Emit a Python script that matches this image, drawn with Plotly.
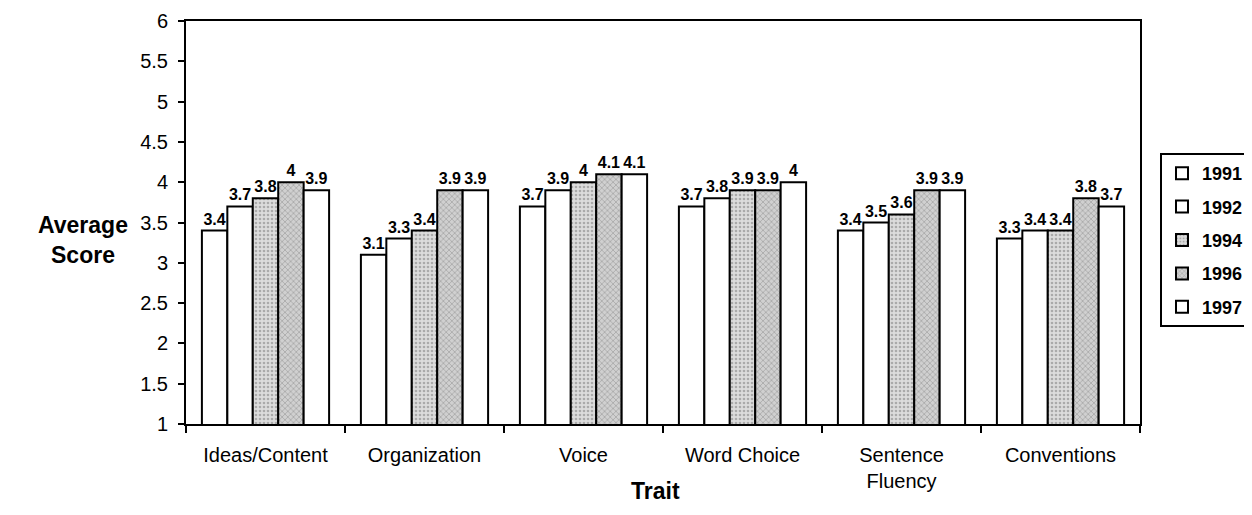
import plotly.graph_objects as go

traits = ["Ideas/Content", "Organization", "Voice", "Word Choice", "Sentence<br>Fluency", "Conventions"]
years = ["1991", "1992", "1994", "1996", "1997"]
s1991 = [3.4, 3.1, 3.7, 3.7, 3.4, 3.3]
s1992 = [3.7, 3.3, 3.9, 3.8, 3.5, 3.4]
s1994 = [3.8, 3.4, 4.0, 3.9, 3.6, 3.4]
s1996 = [4.0, 3.9, 4.1, 3.9, 3.9, 3.8]
s1997 = [3.9, 3.9, 4.1, 4.0, 3.9, 3.7]
series = [s1991, s1992, s1994, s1996, s1997]

styles = [
    dict(color="white"),
    dict(color="white"),
    dict(color="#d4d4d4", pattern=dict(shape=".", fgcolor="#777777", bgcolor="#dcdcdc", size=4, solidity=0.35)),
    dict(color="#c4c4c4", pattern=dict(shape="x", fgcolor="#6a6a6a", bgcolor="#d0d0d0", size=4, solidity=0.3)),
    dict(color="white"),
]

FONT = "Liberation Sans, Arial"

fig = go.Figure()
for i, (yr, vals) in enumerate(zip(years, series)):
    m = dict(styles[i])
    m["line"] = dict(color="black", width=2)
    fig.add_trace(go.Bar(
        x=traits, y=vals, name=yr, marker=m,
        text=[f"{v:g}" for v in vals], textposition="outside",
        textfont=dict(family=FONT, size=16, color="black", weight="bold"),
        constraintext="none",
        cliponaxis=False, legendgroup=yr,
    ))

# page body has an 8px default margin, so the figure is offset by 8px
fig.update_layout(
    width=1244, height=507,
    margin=dict(l=178, r=112, t=13, b=91, autoexpand=False),
    plot_bgcolor="white", paper_bgcolor="white",
    barmode="group", bargap=0.2, bargroupgap=0,
    font=dict(family=FONT, color="black"),
    showlegend=True,
    legend=dict(
        x=(1160 - 186) / 954, y=(424 - 153) / 403, xanchor="left", yanchor="top",
        bordercolor="black", borderwidth=2, bgcolor="white",
        font=dict(size=18, weight="bold"),
        traceorder="grouped", tracegroupgap=7,
        itemwidth=30,
    ),
)
fig.update_xaxes(
    showline=True, linecolor="black", linewidth=2, mirror=True,
    ticks="outside", tickson="boundaries", ticklen=7, tickwidth=2, tickcolor="black",
    tickfont=dict(size=20), showgrid=False, automargin=False, ticklabelstandoff=12,
)
fig.update_yaxes(
    range=[1, 6], dtick=0.5, tick0=1,
    showline=True, linecolor="black", linewidth=2, mirror=True,
    ticks="outside", ticklen=6, tickwidth=2, tickcolor="black",
    tickfont=dict(size=20), showgrid=False, zeroline=False, automargin=False,
    ticklabelstandoff=6,
)
fig.add_annotation(text="<b>Average<br>Score</b>", xref="paper", yref="paper",
                   x=(83 - 186) / 954, y=(424 - 240) / 403, showarrow=False, font=dict(size=23),
                   xanchor="center", yanchor="middle")
fig.add_annotation(text="<b>Trait</b>", xref="paper", yref="paper",
                   x=(655 - 186) / 954, y=(424 - 491) / 403, showarrow=False, font=dict(size=23),
                   xanchor="center", yanchor="middle")

fig.write_html("out.html")
